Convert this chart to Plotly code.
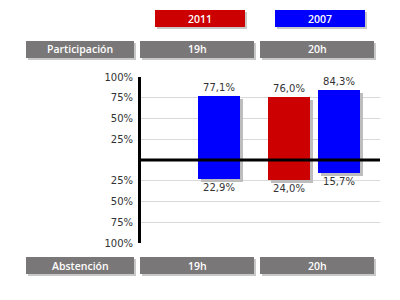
import plotly.graph_objects as go

# ---- data ----
categories = ["19h", "20h"]
series_names = ["2011", "2007"]
participacion_2011 = [None, 76.0]
participacion_2007 = [77.1, 84.3]
abstencion_2011 = [None, 24.0]
abstencion_2007 = [22.9, 15.7]
y_tick_vals = [100, 75, 50, 25, -25, -50, -75, -100]
y_tick_text = ["100%", "75%", "50%", "25%", "25%", "50%", "75%", "100%"]
row_top_label = "Participación"
row_bottom_label = "Abstención"

# ---- styling / geometry ----
W, H = 400, 300
ML, MR, MT, MB = 141, 20, 77, 57
PW, PH = W - ML - MR, H - MT - MB
colors = {"2011": "#cc0000", "2007": "#0000ff"}
shadow_col = "#bdbdbd"
box_col = "#7a7778"
box_shadow = "#c8c8c8"
GROUP_PX = 120.0
BAR_PX = 42.0
x_range = [-(194 - ML) / GROUP_PX, 1 + (ML + PW - 314) / GROUP_PX]
bar_w = BAR_PX / GROUP_PX
offsets = {"2011": -46 / GROUP_PX, "2007": 4 / GROUP_PX}
px_per_unit = PH / 200.0
d_y = 3 / px_per_unit
d_x = 3 / GROUP_PX

def fmt(v):
    return None if v is None else f"{v:.1f}%".replace(".", ",")

xs = list(range(len(categories)))
data = {
    "2011": (participacion_2011, abstencion_2011),
    "2007": (participacion_2007, abstencion_2007),
}

fig = go.Figure()

# shadows
for name in series_names:
    part, abst = data[name]
    sx, sy, sb = [], [], []
    for i, (p, a) in enumerate(zip(part, abst)):
        if p is None:
            continue
        sx.append(xs[i]); sy.append(p + a); sb.append(-a - d_y)
    fig.add_trace(go.Bar(x=sx, y=sy, base=sb, width=bar_w, offset=offsets[name] + d_x,
                         marker=dict(color=shadow_col, line=dict(width=0)),
                         hoverinfo="skip", showlegend=False))

# bars
font_lbl = dict(family="DejaVu Sans, sans-serif", size=10, color="#333333")
for name in series_names:
    part, abst = data[name]
    fig.add_trace(go.Bar(x=xs, y=part, width=bar_w, offset=offsets[name],
                         marker=dict(color=colors[name], line=dict(width=0)),
                         text=[fmt(v) for v in part], textposition="outside",
                         textfont=font_lbl, cliponaxis=False, showlegend=False))
    fig.add_trace(go.Bar(x=xs, y=[None if v is None else -v for v in abst],
                         width=bar_w, offset=offsets[name],
                         marker=dict(color=colors[name], line=dict(width=0)),
                         text=[fmt(v) for v in abst], textposition="outside",
                         textfont=font_lbl, cliponaxis=False, showlegend=False))

def px2x(px):
    return (px - ML) / PW

def px2y(py):
    return 1 - (py - MT) / PH

shapes = []
annotations = []

def add_box(x0, x1, y0, y1, fill, text, shadow=box_shadow):
    shapes.append(dict(type="rect", xref="paper", yref="paper",
                       x0=px2x(x0 + 2), x1=px2x(x1 + 2), y0=px2y(y1 + 2), y1=px2y(y0 + 2),
                       fillcolor=shadow, line=dict(width=0), layer="above"))
    shapes.append(dict(type="rect", xref="paper", yref="paper",
                       x0=px2x(x0), x1=px2x(x1), y0=px2y(y1), y1=px2y(y0),
                       fillcolor=fill, line=dict(width=0), layer="above"))
    annotations.append(dict(xref="paper", yref="paper", x=px2x((x0 + x1) / 2),
                            y=px2y((y0 + y1) / 2), text=text, showarrow=False,
                            xanchor="center", yanchor="middle",
                            font=dict(family="Open Sans, sans-serif", size=10.5, color="white",
                                      weight=600)))

# legend boxes
add_box(155, 245, 10, 27, colors["2011"], series_names[0])
add_box(275, 365, 10, 27, colors["2007"], series_names[1])
# header rows
cols_px = [(26, 134), (140, 254), (260, 374)]
for (x0, x1), t in zip(cols_px, [row_top_label] + categories):
    add_box(x0, x1, 41, 58, box_col, t)
for (x0, x1), t in zip(cols_px, [row_bottom_label] + categories):
    add_box(x0, x1, 257, 274, box_col, t)

# zero line above bars
shapes.append(dict(type="line", xref="paper", yref="y", x0=0, x1=1, y0=0, y1=0,
                   line=dict(color="black", width=3), layer="above"))

fig.update_layout(
    width=W, height=H, margin=dict(l=ML, r=MR, t=MT, b=MB),
    paper_bgcolor="white", plot_bgcolor="white",
    barmode="overlay", bargap=0,
    shapes=shapes, annotations=annotations,
    xaxis=dict(range=x_range, showgrid=False, zeroline=False, showticklabels=False,
               showline=False, fixedrange=True),
    yaxis=dict(range=[-100, 100], tickvals=y_tick_vals, ticktext=y_tick_text,
               showgrid=True, gridcolor="#d9d9d9", gridwidth=1, zeroline=False,
               showline=True, linecolor="black", linewidth=3,
               ticks="", ticklabelstandoff=3,
               tickfont=dict(family="DejaVu Sans, sans-serif", size=10, color="#333333")),
    showlegend=False,
)

fig.write_html("out.html")
